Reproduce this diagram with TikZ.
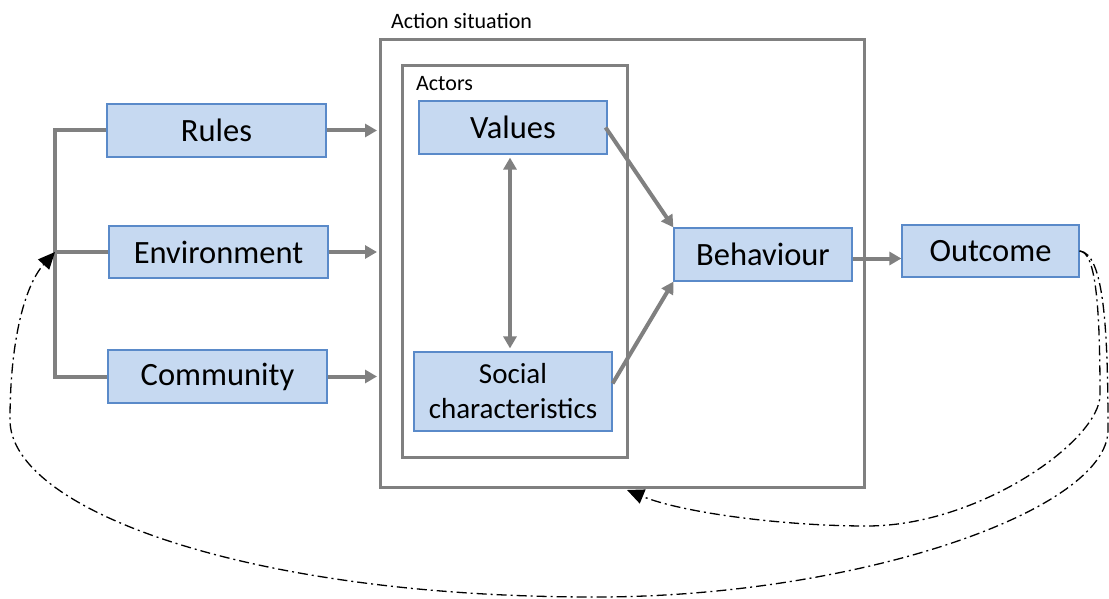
\documentclass[tikz,border=0pt]{standalone}
\usepackage{fontspec}
\setmainfont{Carlito}
\usepackage{tikz}
\usetikzlibrary{arrows.meta,calc}

\definecolor{boxfill}{HTML}{C6D9F1}
\definecolor{boxline}{HTML}{5A8AC9}
\definecolor{flowgray}{HTML}{808080}

\tikzset{
  box/.style={draw=boxline,line width=1.2pt,fill=boxfill,inner sep=0pt,
    font=\fontsize{32.5}{36}\selectfont},
  frame/.style={draw=flowgray,line width=3pt,inner sep=0pt},
  flow/.style={draw=flowgray,line width=4pt,-{Triangle[length=12pt,width=13pt]}},
  bar/.style={draw=flowgray,line width=4pt},
  feedback/.style={black,line width=1.3pt,dash pattern=on 10pt off 4pt on 2pt off 4pt,
    -{Triangle[length=17pt,width=15pt]}}
}

\begin{document}
\begin{tikzpicture}[x=1pt,y=-1pt]
	\useasboundingbox (0,0) rectangle (1109,599);
	% action situation and actors
	\node[frame,minimum width=484pt,minimum height=447pt] (act) at (622,263.5) {};
	\node[anchor=base west,inner sep=0pt,font=\fontsize{22}{26}\selectfont] (actlbl) at (391,29) {Action situation};
	\node[frame,minimum width=225pt,minimum height=391pt] (actors) at (514.5,261.5) {};
	\node[anchor=base west,inner sep=0pt,font=\fontsize{22}{26}\selectfont] (actorslbl) at (416,91) {Actors};
	% boxes
	\node[box,minimum width=219pt,minimum height=53pt] (rules) at (216.5,130.5) {Rules};
	\node[box,minimum width=219pt,minimum height=52pt] (env)   at (218.5,252)   {Environment};
	\node[box,minimum width=219pt,minimum height=53pt] (comm)  at (217.5,376.5) {Community};
	\node[box,minimum width=188pt,minimum height=53pt] (val)   at (513,127.5)   {Values};
	\node[box,minimum width=198pt,minimum height=79pt,align=center,
		font=\fontsize{29}{35}\selectfont] (soc) at (513,391.5) {\raisebox{-3pt}{Social}\\\raisebox{-3pt}{characteristics}};
	\node[box,minimum width=178pt,minimum height=53pt] (beh)   at (763,254.5)   {Behaviour};
	\node[box,minimum width=177pt,minimum height=52pt] (out)   at (990.5,251)   {Outcome};
	% left bracket
	\coordinate (brk) at (55,252);
	\draw[bar] (rules.west) -- (rules.west -| brk) -- (comm.west -| brk) -- (comm.west);
	\draw[bar] (env.west) -- (brk);
	% flows
	\draw[flow] (rules.east) -- ([xshift=-1.5pt]rules.east -| act.west);
	\draw[flow] (env.east)   -- ([xshift=-1.5pt]env.east -| act.west);
	\draw[flow] (comm.east)  -- ([xshift=-1.5pt]comm.east -| act.west);
	\draw[flow,{Triangle[length=12pt,width=13pt]}-{Triangle[length=12pt,width=13pt]},
		shorten <=3pt,shorten >=3pt] ([xshift=-3pt]val.south) -- ([xshift=-3pt]val.south |- soc.north);
	\draw[flow] ([xshift=-2pt]val.east) -- (beh.north west);
	\draw[flow] ([yshift=8pt]soc.east) -- (beh.south west);
	\draw[flow] ([yshift=-4pt]beh.east) -- ([yshift=-4pt]beh.east -| out.west);
	% feedback loops
	\coordinate (fb) at (627,490);
	\draw[feedback] (out.east) .. controls (1095,252) and (1100,300) .. (1100,395)
		.. controls (1100,440) and (980,526) .. (867,526)
		.. controls (780,526) and (680,512) .. (fb);
	\draw[feedback] (out.east) .. controls (1104,253) and (1108,330) .. (1108,430)
		.. controls (1108,510) and (860,596) .. (600,597)
		.. controls (250,598) and (10,510) .. (10,420)
		.. controls (10,340) and (25,285) .. (brk);
\end{tikzpicture}
\end{document}
